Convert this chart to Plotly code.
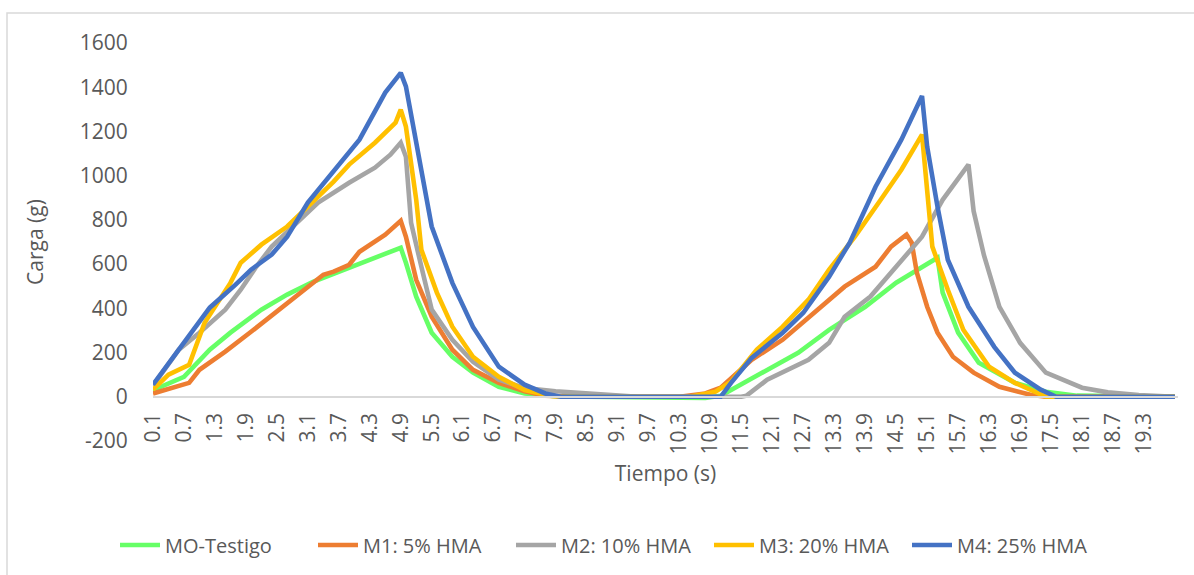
import plotly.graph_objects as go

# ---------------- data ----------------
t_mo = [0.1, 0.7, 1.2, 1.6, 2.2, 2.7, 3.2, 3.7, 4.2, 4.9, 5.0, 5.2, 5.5, 5.9, 6.3, 6.8, 7.3, 7.9, 8.5,
        10.8, 11.1, 11.4, 11.9, 12.6, 13.2, 13.9, 14.5, 15.3, 15.4, 15.7, 16.1, 16.8, 17.4, 18.0, 19.9]
v_mo = [30, 90, 213, 290, 394, 462, 520, 566, 611, 674, 606, 453, 290, 181, 109, 45, 15, 3, 0,
        -5, 5, 45, 109, 199, 303, 407, 516, 629, 471, 290, 154, 63, 23, 5, 0]

t_m1 = [0.1, 0.4, 0.8, 1.0, 1.5, 2.0, 2.6, 3.0, 3.4, 3.6, 3.9, 4.1, 4.6, 4.9, 5.0, 5.2, 5.5, 5.9, 6.3, 6.8,
        7.3, 7.7, 8.2, 10.3, 10.8, 11.1, 11.7, 12.3, 12.9, 13.5, 14.1, 14.4, 14.7, 14.8, 14.9, 15.1, 15.3,
        15.6, 16.0, 16.5, 17.1, 17.4, 19.9]
v_m1 = [15, 35, 63, 122, 204, 294, 403, 475, 552, 566, 597, 656, 733, 796, 724, 529, 362, 213, 122, 63,
        25, 5, 0, 0, 15, 41, 167, 258, 380, 498, 588, 679, 733, 697, 561, 407, 290,
        181, 109, 45, 9, 0, 0]

t_m2 = [0.1, 0.6, 1.0, 1.5, 1.8, 2.1, 2.4, 2.9, 3.3, 3.9, 4.4, 4.7, 4.9, 5.0, 5.1, 5.3, 5.5, 5.9, 6.3, 6.8,
        7.3, 7.9, 8.5, 9.0, 9.5, 11.5, 11.6, 12.0, 12.4, 12.8, 13.2, 13.5, 14.0, 14.4, 15.0, 15.4, 15.9,
        16.0, 16.2, 16.5, 16.9, 17.4, 18.1, 18.6, 19.2, 19.9]
v_m2 = [50, 213, 290, 394, 484, 588, 679, 787, 878, 968, 1036, 1095, 1149, 1086, 787, 588, 394, 258, 158, 77,
        40, 25, 15, 8, 0, 0, 5, 77, 122, 167, 244, 362, 453, 561, 724, 891, 1050,
        840, 640, 407, 244, 109, 41, 20, 8, 0]

t_m3 = [0.1, 0.4, 0.8, 1.1, 1.6, 1.8, 2.2, 2.7, 3.1, 3.6, 3.9, 4.4, 4.8, 4.9, 5.0, 5.2, 5.3, 5.6, 5.9, 6.3,
        6.8, 7.3, 7.8, 8.0, 10.5, 11.0, 11.3, 11.8, 12.3, 12.8, 13.2, 13.7, 14.2, 14.6, 15.0, 15.1, 15.2,
        15.5, 15.8, 16.3, 16.8, 17.4, 19.9]
v_m3 = [32, 100, 145, 335, 515, 606, 688, 770, 860, 973, 1050, 1149, 1240, 1299, 1222, 891, 665, 471, 317, 181,
        90, 30, 5, 0, 0, 23, 68, 213, 317, 439, 575, 724, 891, 1027, 1186, 905, 679,
        484, 303, 136, 63, 0, 0]

t_m4 = [0.1, 0.7, 1.2, 1.7, 2.0, 2.4, 2.7, 3.1, 3.5, 3.7, 4.1, 4.6, 4.9, 5.0, 5.3, 5.5, 5.9, 6.3, 6.8, 7.3,
        7.7, 8.0, 11.1, 11.3, 11.7, 12.3, 12.7, 13.2, 13.6, 14.1, 14.6, 15.0, 15.1, 15.3, 15.5, 15.9, 16.4,
        16.8, 17.3, 17.6, 19.9]
v_m4 = [55, 243, 403, 507, 575, 643, 724, 878, 991, 1050, 1163, 1376, 1465, 1404, 1013, 770, 515, 316, 136, 55,
        15, 0, 0, 63, 176, 290, 380, 543, 697, 950, 1163, 1360, 1131, 860, 620, 407, 226,
        109, 32, 0, 0]

series_names = ["MO-Testigo", "M1: 5% HMA", "M2: 10% HMA", "M3: 20% HMA", "M4: 25% HMA"]
series_colors = ["#66FF66", "#ED7D31", "#A5A5A5", "#FFC000", "#4472C4"]

tick_labels = ["0.1", "0.7", "1.3", "1.9", "2.5", "3.1", "3.7", "4.3", "4.9", "5.5", "6.1", "6.7",
               "7.3", "7.9", "8.5", "9.1", "9.7", "10.3", "10.9", "11.5", "12.1", "12.7", "13.3",
               "13.9", "14.5", "15.1", "15.7", "16.3", "16.9", "17.5", "18.1", "18.7", "19.3"]
tick_positions = [float(s) for s in tick_labels]

y_tick_values = [-200, 0, 200, 400, 600, 800, 1000, 1200, 1400, 1600]
y_tick_labels = ["-200", "0", "200", "400", "600", "800", "1000", "1200", "1400", "1600"]

# ---------------- figure ----------------
W, H = 1194, 575
L, R, T, B = 153, 16, 43, 134
FONT = "Open Sans"
GREY = "#595959"

fig = go.Figure()
for t, v, name, col in zip([t_mo, t_m1, t_m2, t_m3, t_m4],
                           [v_mo, v_m1, v_m2, v_m3, v_m4],
                           series_names, series_colors):
    fig.add_trace(go.Scatter(x=t, y=v, mode="lines", name=name,
                             line=dict(color=col, width=4.6, shape="linear")))

ymin, ymax = -200, 1600
pos0 = (0 - ymin) / (ymax - ymin)

pw = W - L - R
ph = H - T - B

fig.update_layout(
    width=W, height=H,
    margin=dict(l=L, r=R, t=T, b=B, autoexpand=False),
    paper_bgcolor="white", plot_bgcolor="white",
    font=dict(family=FONT, size=21, color=GREY),
    showlegend=True,
    legend=dict(orientation="h", x=(610 - L) / pw, xanchor="center",
                y=-(545 - (T + ph)) / ph, yanchor="middle",
                font=dict(size=20, color=GREY), itemwidth=40,
                entrywidth=143, entrywidthmode="pixels",
                traceorder="normal"),
    xaxis=dict(range=[0.1, 19.96], tickmode="array", tickvals=tick_positions, ticktext=tick_labels,
               tickangle=-90, showgrid=False, zeroline=False, automargin=False,
               showline=True, linecolor="#D9D9D9", linewidth=1.5,
               anchor="free", position=pos0, ticks="outside", ticklen=7,
               tickcolor="rgba(0,0,0,0)",
               tickfont=dict(size=21, color=GREY),
               title=dict(text="Tiempo (s)", font=dict(size=21, color=GREY), standoff=12)),
    yaxis=dict(range=[ymin, ymax], tickmode="array", tickvals=y_tick_values, ticktext=y_tick_labels,
               showgrid=False, zeroline=False, showline=False, automargin=False,
               ticks="outside", ticklen=20, tickcolor="rgba(0,0,0,0)",
               tickfont=dict(size=21, color=GREY),
               title=dict(text="Carga (g)", font=dict(size=21, color=GREY), standoff=30)),
)

# outer chart-area border
fig.add_shape(type="rect", xref="paper", yref="paper",
              x0=(7 - L) / pw, x1=(W + 10 - L) / pw,
              y0=-(H + 10 - (T + ph)) / ph, y1=((T + ph) - 13) / ph,
              line=dict(color="#D9D9D9", width=1.5), fillcolor="rgba(0,0,0,0)", layer="below")

fig.write_html("out.html")
